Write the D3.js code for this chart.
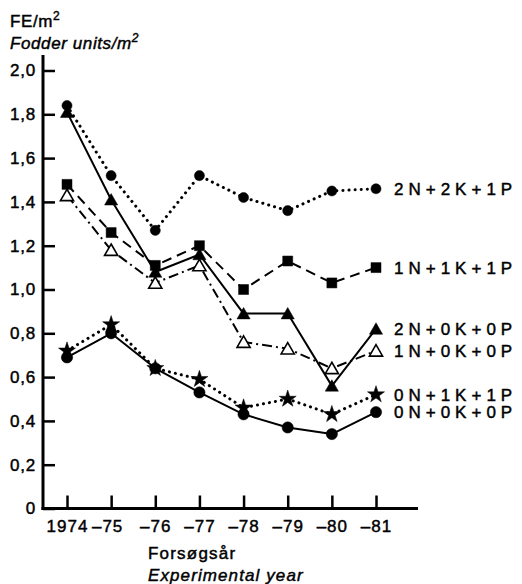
<!DOCTYPE html>
<html>
<head>
<meta charset="utf-8">
<script src="https://cdn.jsdelivr.net/npm/d3@7"></script>
<style>
  body { margin: 0; background: #fff; }
  svg { display: block; font-family: "Liberation Sans", Arial, sans-serif; }
</style>
</head>
<body>
<div id="chart"></div>
<script>
// 数据
let years = ['1974', '–75', '–76', '–77', '–78', '–79', '–80', '–81']
let yTicks = [0, 0.2, 0.4, 0.6, 0.8, 1.0, 1.2, 1.4, 1.6, 1.8, 2.0]
let seriesNames = ['2N+2K+1P', '1N+1K+1P', '2N+0K+0P', '1N+0K+0P', '0N+1K+1P', '0N+0K+0P']
let s2N2K1P = [1.84, 1.52, 1.27, 1.52, 1.42, 1.36, 1.45, 1.46]
let s1N1K1P = [1.48, 1.26, 1.11, 1.20, 1.00, 1.13, 1.03, 1.10]
let s2N0K0P = [1.81, 1.41, 1.08, 1.16, 0.89, 0.89, 0.56, 0.82]
let s1N0K0P = [1.43, 1.18, 1.03, 1.11, 0.76, 0.73, 0.64, 0.72]
let s0N1K1P = [0.72, 0.84, 0.64, 0.59, 0.46, 0.50, 0.43, 0.52]
let s0N0K0P = [0.69, 0.80, 0.64, 0.53, 0.43, 0.37, 0.34, 0.44]
let seriesValues = [s2N2K1P, s1N1K1P, s2N0K0P, s1N0K0P, s0N1K1P, s0N0K0P]

// 样式
let chartStyle = {
  w: 522,
  h: 584,
  x0: 43,
  yBottom: 508.5,
  yTop: 55,
  xAxisEnd: 418,
  fontSize: 17
}
let styles = [
  { dash: '0.1,6', width: 3, cap: 'round', symbol: d3.symbolCircle, size: 80, fill: '#000' },
  { dash: '10,6', width: 2, cap: 'butt', symbol: d3.symbolSquare, size: 100, fill: '#000' },
  { dash: null, width: 2, cap: 'butt', symbol: d3.symbolTriangle, size: 75, fill: '#000' },
  { dash: '10,4,2,4', width: 2, cap: 'butt', symbol: d3.symbolTriangle, size: 75, fill: '#fff' },
  { dash: '0.1,6', width: 3, cap: 'round', symbol: d3.symbolStar, size: 90, fill: '#000' },
  { dash: null, width: 2, cap: 'butt', symbol: d3.symbolCircle, size: 100, fill: '#000' }
]

let svg = d3.select('#chart').append('svg')
  .attr('width', chartStyle.w)
  .attr('height', chartStyle.h)

let xScale = d3.scaleLinear().domain([0, years.length - 1]).range([67, 376])
let yScale = d3.scaleLinear().domain([0, 2]).range([chartStyle.yBottom, 70.5])

//文字加粗一点, 接近扫描件
let heavy = sel => sel.attr('stroke', '#000').attr('stroke-width', 0.45).attr('fill', '#000')

// 坐标轴
let fmt = d => d === 0 ? '0' : d3.format('.1f')(d).replace('.', ',')
let yAxis = d3.axisLeft(yScale).tickValues(yTicks).tickFormat(fmt).tickSize(-12).tickPadding(7)
let gy = svg.append('g').attr('transform', `translate(${chartStyle.x0},0)`).call(yAxis)
gy.select('.domain').remove()
gy.selectAll('line').attr('stroke-width', 2.5)
gy.selectAll('text').attr('font-size', chartStyle.fontSize).attr('letter-spacing', 0.8).call(heavy)

let xAxis = d3.axisBottom(xScale).tickValues(d3.range(years.length))
  .tickFormat(i => years[i]).tickSize(-13).tickPadding(11)
let gx = svg.append('g').attr('transform', `translate(0,${chartStyle.yBottom})`).call(xAxis)
gx.select('.domain').remove()
gx.selectAll('line').attr('stroke-width', 2.5)
gx.selectAll('text').attr('font-size', chartStyle.fontSize).attr('letter-spacing', 1).call(heavy)
gx.selectAll('.tick').filter((d, i) => i === 1).select('text').attr('dx', -4)

svg.append('line')
  .attr('x1', chartStyle.x0).attr('x2', chartStyle.x0)
  .attr('y1', chartStyle.yTop).attr('y2', chartStyle.yBottom + 1.5)
  .attr('stroke', '#000').attr('stroke-width', 3)
svg.append('line')
  .attr('x1', chartStyle.x0 - 1.5).attr('x2', chartStyle.xAxisEnd)
  .attr('y1', chartStyle.yBottom).attr('y2', chartStyle.yBottom)
  .attr('stroke', '#000').attr('stroke-width', 3)

// 线
let line = d3.line().x((d, i) => xScale(i)).y(d => yScale(d))
seriesValues.forEach((vals, k) => {
  let st = styles[k]
  svg.append('path')
    .attr('d', line(vals))
    .attr('fill', 'none')
    .attr('stroke', '#000')
    .attr('stroke-width', st.width)
    .attr('stroke-linecap', st.cap)
    .attr('stroke-linejoin', 'round')
    .attr('stroke-dasharray', st.dash)
})
// 点
seriesValues.forEach((vals, k) => {
  let st = styles[k]
  let sym = d3.symbol().type(st.symbol).size(st.size)
  svg.append('g').selectAll('path')
    .data(vals)
    .enter()
    .append('path')
    .attr('d', sym)
    .attr('transform', (d, i) => `translate(${xScale(i)},${yScale(d) + (st.symbol === d3.symbolTriangle ? 1.5 : 0)})`)
    .attr('fill', st.fill)
    .attr('stroke', '#000')
    .attr('stroke-width', st.fill === '#fff' ? 1.6 : 0.5)
})
// 标签
svg.append('g').selectAll('text')
  .data(seriesNames)
  .enter()
  .append('text')
  .text(d => d)
  .attr('x', 394)
  .attr('y', (d, k) => yScale(seriesValues[k][years.length - 1]))
  .attr('dy', '0.36em')
  .attr('font-size', chartStyle.fontSize)
  .attr('letter-spacing', 5)
  .call(heavy)

// 标题
let supText = (x, y, base, italic) => {
  let t = svg.append('text').attr('x', x).attr('y', y)
    .attr('font-size', chartStyle.fontSize).attr('letter-spacing', 0.6)
    .attr('font-style', italic ? 'italic' : null).call(heavy)
  t.append('tspan').text(base)
  t.append('tspan').attr('dy', -7).attr('font-size', 12).text('2')
  return t
}
supText(10, 27, 'FE/m', false)
supText(10, 49, 'Fodder units/m', true)
svg.append('text').attr('x', 148).attr('y', 559).attr('font-size', chartStyle.fontSize)
  .attr('letter-spacing', 1.2).text('Forsøgsår').call(heavy)
svg.append('text').attr('x', 148).attr('y', 581).attr('font-size', chartStyle.fontSize)
  .attr('letter-spacing', 1.1).attr('font-style', 'italic').text('Experimental year').call(heavy)
</script>
</body>
</html>
